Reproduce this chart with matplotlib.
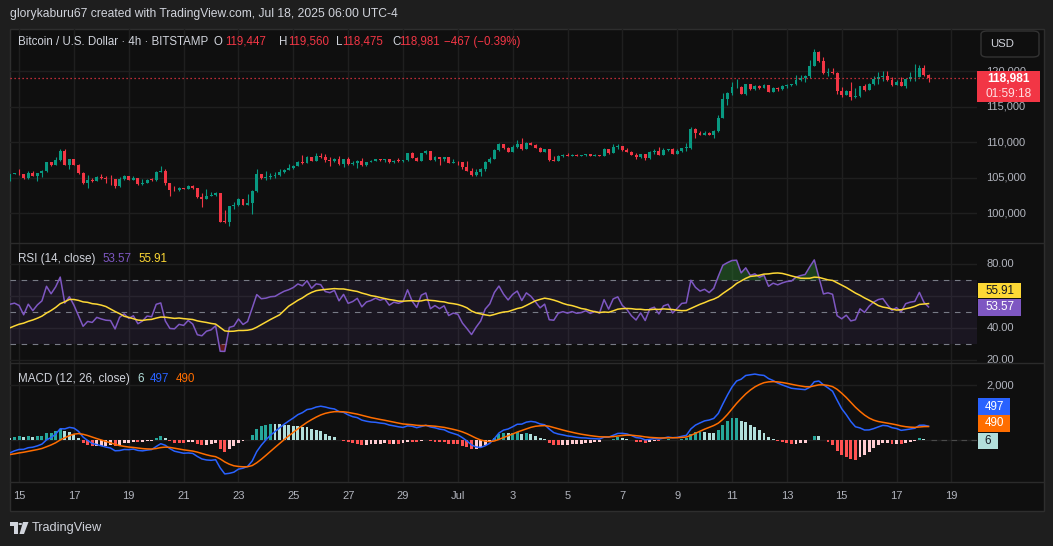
import numpy as np
import pandas as pd
import matplotlib
matplotlib.use("Agg")
import matplotlib.pyplot as plt
import matplotlib.transforms as mtransforms
from matplotlib.patches import Rectangle, FancyBboxPatch, Circle, Polygon

plt.rcParams['font.family'] = ['Liberation Sans', 'DejaVu Sans']

W, H = 1053, 546

# ---- BTCUSD 4h candles (Bitstamp), Jun 14 16:00 -> Jul 18 04:00
first_open = 104621
closes = [
    105526, 105600, 105478, 104954, 105621, 105240, 105621, 105906, 107192, 106763,
    107477, 108763, 106811, 107620, 106811, 105668, 104240, 104764, 104621, 105145,
    104954, 104812, 104780, 103812, 104859, 105192, 104716, 104954, 104098, 104336,
    104764, 104700, 105859, 106002, 104240, 103288, 103241, 103622, 103500, 103907,
    103526, 102241, 102098, 102432, 102527, 102812, 98814, 98780, 101051, 101194,
    102003, 101194, 101527, 103193, 105478, 104954, 105050, 105288, 105350, 105764,
    106144, 106382, 106716, 107287, 107144, 107953, 107382, 108048, 107990, 107480,
    107400, 107668, 106906, 107620, 106906, 107096, 107430, 106763, 107239, 107382,
    107620, 107477, 107600, 107192, 107430, 107360, 107477, 108477, 107810, 107382,
    108477, 108715, 107572, 107858, 107620, 107858, 107096, 107287, 107200, 106478,
    105954, 105335, 105811, 106240, 107192, 107668, 108905, 109762, 109143, 108667,
    109334, 109762, 109000, 109952, 109667, 109191, 108667, 109048, 107477, 107420,
    108096, 108239, 108100, 108239, 108096, 108150, 108286, 108096, 108240, 108120,
    109096, 108477, 109334, 109524, 108953, 108667, 108191, 107858, 108356, 107746,
    108638, 108779, 108262, 108920, 109061, 108403, 108779, 109201, 109249, 111877,
    111361, 111080, 111314, 111080, 111596, 113427, 116103, 116948, 117700, 117794,
    116807, 118169, 117512, 117887, 117606, 118028, 117089, 117653, 117512, 117840,
    118075, 118150, 118779, 119061, 119249, 120751, 122723, 121362, 119718, 119906,
    119760, 117136, 116667, 117136, 116291, 116432, 117840, 117371, 118216, 118826,
    119202, 119343, 118685, 118075, 118404, 117934, 118920, 119108, 119202, 120376,
    119447, 118981,
]
highs = [
    105600, 105700, 106192, 105550, 105906, 105906, 105680, 106144, 107250, 107250,
    107858, 109048, 109048, 107700, 107700, 106950, 105811, 105335, 104954, 105200,
    105573, 105288, 105335, 104860, 105097, 105335, 105250, 105192, 104954, 104859,
    104850, 104954, 105900, 106620, 106192, 104300, 103907, 103700, 103600, 103950,
    103950, 103622, 102908, 103431, 103050, 102955, 102908, 100480, 101100, 101670,
    102146, 102050, 102670, 103250, 106192, 105500, 105906, 105668, 105859, 106287,
    106200, 106906, 106800, 107350, 108191, 108000, 107950, 108429, 108429, 108334,
    107953, 107810, 108001, 107680, 107858, 107334, 107480, 107715, 107290, 107525,
    107680, 107650, 107640, 107650, 107572, 107715, 107520, 108520, 108572, 107860,
    108520, 108953, 108620, 108096, 107953, 107953, 107858, 107668, 107330, 107240,
    107334, 106382, 106192, 106382, 107334, 107906, 109048, 109905, 109810, 109286,
    109619, 110333, 110571, 110000, 110000, 109760, 109381, 109100, 109100, 108096,
    108150, 108334, 108477, 108382, 108334, 108191, 108382, 108334, 108382, 108240,
    109150, 109096, 109762, 109762, 109524, 109191, 108762, 108477, 108400, 108400,
    108700, 109061, 109342, 109155, 109100, 109201, 109061, 109250, 109906, 112159,
    111971, 111596, 111549, 111455, 111650, 113803, 116948, 117000, 118498, 118826,
    117850, 118220, 118216, 118075, 118075, 118216, 118100, 117700, 117700, 117981,
    118120, 118169, 119484, 119437, 119484, 121502, 123146, 122770, 121972, 120470,
    120423, 119906, 117794, 117277, 118498, 117606, 117900, 118169, 118310, 119296,
    119906, 120047, 120047, 119155, 118685, 119202, 119061, 119906, 121033, 120892,
    120892, 119560,
]
lows = [
    104550, 105480, 105335, 104900, 104900, 105200, 104621, 105097, 105850, 106700,
    106760, 107400, 106750, 106287, 106750, 105600, 104150, 103574, 104383, 104526,
    104812, 104240, 104050, 103574, 103780, 104764, 104650, 104700, 104050, 104050,
    104240, 104526, 104526, 105811, 104002, 102384, 103098, 103200, 103384, 103430,
    103480, 102200, 100908, 102051, 102432, 102384, 98750, 98700, 98242, 100575,
    101099, 101150, 101150, 99861, 102955, 104900, 104764, 104859, 104907, 105240,
    105621, 106097, 106192, 106668, 106954, 107096, 107330, 107330, 107715, 107239,
    106620, 107239, 106850, 106525, 106850, 106811, 106382, 106620, 106700, 107190,
    107330, 107334, 107239, 107150, 107150, 107239, 107239, 107430, 107760, 107330,
    107330, 108380, 107520, 107430, 106763, 107334, 107050, 107050, 106811, 106287,
    105900, 105290, 105290, 105240, 106000, 107100, 107620, 108700, 109100, 108620,
    108620, 109143, 108905, 109000, 109620, 109140, 108620, 108620, 107430, 107380,
    107380, 107950, 108050, 108050, 108050, 108050, 108096, 108050, 108050, 108000,
    108050, 108382, 108430, 109000, 108810, 108620, 108140, 107668, 107800, 107512,
    107700, 108403, 108200, 108200, 108779, 108350, 108350, 108685, 108779, 109107,
    110657, 111030, 111030, 111030, 110657, 111500, 113333, 115258, 116573, 117559,
    116750, 116667, 117324, 117277, 117512, 117606, 116995, 117089, 117136, 117277,
    117653, 117887, 118028, 118545, 118498, 119061, 120657, 121300, 119577, 119249,
    119577, 116807, 116291, 116620, 115868, 116197, 116291, 117136, 117324, 118075,
    118216, 118545, 118545, 117887, 117981, 117880, 117559, 118545, 118545, 119108,
    119300, 118475,
]

date_ticks = [2 + 12 * k for k in range(18)]
date_labels = ["15", "17", "19", "21", "23", "25", "27", "29", "Jul",
               "3", "5", "7", "9", "11", "13", "15", "17", "19"]
price_ticks = [100000, 105000, 110000, 115000, 120000]
rsi_ticks = [20, 40, 60, 80]
rsi_label_ticks = [20, 40, 80]
macd_ticks = [0, 2000]

# legend strings as shown on the chart
ohlc_labels = ["O", "H", "L", "C"]
ohlc_values = ["119,447", "119,560", "118,475", "118,981"]
change_text = "\u2212467 (\u22120.39%)"

# indicator state at the left edge of the chart
macd_seed = -545
rsi_seed_gain, rsi_seed_loss = 150, 180
rsi_ma_seed = 39

# ---- indicators
c = pd.Series(closes, dtype=float)
o = c.shift(1).fillna(first_open)
n = len(c)
x = np.arange(n)

d = c.diff().fillna(c[0] - first_open)
ag, al = rsi_seed_gain, rsi_seed_loss
rsi = []
for chg in d:
    ag = (ag * 13 + max(chg, 0)) / 14
    al = (al * 13 + max(-chg, 0)) / 14
    rsi.append(100 - 100 / (1 + ag / al))
rsi = pd.Series(rsi)
rsi_ma = pd.concat([pd.Series([rsi_ma_seed] * 13, dtype=float), rsi],
                   ignore_index=True).rolling(14).mean().iloc[13:].reset_index(drop=True)

slope = -macd_seed / 7.0
e12, e26, sig = first_open + 5.5 * slope, first_open + 12.5 * slope, float(macd_seed)
macd, signal = [], []
for px in c:
    e12 += 2 / 13 * (px - e12)
    e26 += 2 / 27 * (px - e26)
    m = e12 - e26
    sig += 0.2 * (m - sig)
    macd.append(m)
    signal.append(sig)
macd = np.array(macd)
signal = np.array(signal)
hist = macd - signal
prev = np.r_[hist[0], hist[:-1]]
hist_col = np.where(hist >= 0,
                    np.where(hist > prev, '#26a69a', '#b2dfdb'),
                    np.where(hist > prev, '#ffcdd2', '#ff5252'))

# ---- figure
BG = '#0f0f0f'
OUT = '#1e1e1e'
GRID = '#1f1f1f'
SEP = '#2b2b2b'
TXT = '#d1d4dc'
AX_TXT = '#b2b5be'
UP, DN = '#089981', '#f23645'

fig = plt.figure(figsize=(W / 100, H / 100), dpi=100, facecolor=OUT)


def fx(px):
    return px / W


def fy(py):
    return 1 - py / H


def ftext(px, py, s, **kw):
    kw.setdefault('va', 'center')
    return fig.text(fx(px), fy(py), s, **kw)


def frect(x0, y0, x1, y1, **kw):
    fig.add_artist(Rectangle((fx(x0), fy(y1)), fx(x1) - fx(x0), fy(y0) - fy(y1),
                             transform=fig.transFigure, **kw))


def fbox(x0, y0, x1, y1):
    return mtransforms.TransformedBbox(
        mtransforms.Bbox.from_extents(fx(x0), fy(y1), fx(x1), fy(y0)), fig.transFigure)


# chart frame
frect(10, 29, 1044, 511, facecolor=BG, edgecolor='#2e2e2e', linewidth=1, zorder=0)

X0, X1 = 10, 977
xstep, xorig = 4.57, 9.96
xlim = ((X0 - xorig) / xstep, (X1 - xorig) / xstep)


def pane(y0, y1, ylim):
    ax = fig.add_axes([fx(X0), fy(y1), fx(X1) - fx(X0), (y1 - y0) / H])
    ax.set_facecolor('none')
    ax.set_xlim(*xlim)
    ax.set_ylim(*ylim)
    ax.axis('off')
    sc = fig.add_axes([fx(X1), fy(y1), fx(1044) - fx(X1), (y1 - y0) / H])
    sc.set_ylim(*ylim)
    sc.axis('off')
    for t in date_ticks:
        ax.axvline(t, color=GRID, lw=1, zorder=0)
    return ax, sc


ax, sc = pane(29, 243, (95851, 125897))
ax_r, sc_r = pane(243, 363, (18.07, 93.4))
ax_m, sc_m = pane(363, 482, (-1527, 2800))

lab_tr = lambda s: mtransforms.blended_transform_factory(s.transAxes, s.transData)

# ---- price pane
badge_top, badge_bot = 71, 102
for p in price_ticks:
    ax.axhline(p, color=GRID, lw=1, zorder=0)
    t = sc.text(0.14, p, f"{p:,}", color=AX_TXT, fontsize=8, va='center',
                transform=lab_tr(sc))
    # the last-price badge sits on top of the axis labels
    if p > c.iloc[-1]:
        t.set_clip_box(fbox(977, 29, 1044, badge_top))
    else:
        t.set_clip_box(fbox(977, badge_bot, 1044, 243))

up = c.values >= o.values
col = np.where(up, UP, DN)
body_lo = np.minimum(o.values, c.values)
body_h = np.maximum(np.abs(c.values - o.values), 90)
ax.vlines(x, np.minimum(lows, body_lo), np.maximum(highs, body_lo + body_h),
          colors=col, lw=0.8, zorder=2)
ax.bar(x, body_h, bottom=body_lo, width=0.64, color=col, linewidth=0, zorder=3)
ax.axhline(c.iloc[-1], color=DN, lw=0.9, ls=(0, (1, 2.2)), zorder=4)

# ---- RSI pane
for v in rsi_ticks:
    ax_r.axhline(v, color=GRID, lw=1, zorder=0)
for v in rsi_label_ticks:
    sc_r.text(0.14, v, f"{v:.2f}", color=AX_TXT, fontsize=8, va='center',
              transform=lab_tr(sc_r), clip_on=True)
ax_r.axhspan(30, 70, color='#7e57c2', alpha=0.1, lw=0, zorder=1)
for v in (70, 50, 30):
    ax_r.axhline(v, color='#787b86', lw=0.8, ls=(0, (5, 5)), zorder=2)
ax_r.fill_between(x, rsi, 70, where=rsi > 70, interpolate=True,
                  color='#2e7d32', alpha=0.45, lw=0, zorder=2)
ax_r.fill_between(x, rsi, 30, where=rsi < 30, interpolate=True,
                  color='#c62828', alpha=0.45, lw=0, zorder=2)
ax_r.plot(x, rsi, color='#7e57c2', lw=1.1, zorder=3)
ax_r.plot(x, rsi_ma, color='#fdd835', lw=1.1, zorder=4)

# ---- MACD pane
for v in macd_ticks:
    ax_m.axhline(v, color=GRID, lw=1, zorder=0)
sc_m.text(0.14, 2000, "2,000", color=AX_TXT, fontsize=8, va='center',
          transform=lab_tr(sc_m), clip_on=True)
ax_m.plot([n - 0.5, xlim[1]], [0, 0], color='#4a4a4a', lw=0.8, ls=(0, (5, 4)), zorder=1)
ax_m.bar(x, hist, width=0.64, color=hist_col, linewidth=0, zorder=2)
ax_m.plot(x, macd, color='#2962ff', lw=1.1, zorder=3)
ax_m.plot(x, signal, color='#ff6d00', lw=1.1, zorder=4)

# date labels
dtr = mtransforms.blended_transform_factory(ax_m.transData, fig.transFigure)
for t, s in zip(date_ticks, date_labels):
    ax_m.text(t, fy(496), s, color=AX_TXT, fontsize=8, ha='center', va='center',
              transform=dtr, clip_on=False)

# pane separators
for yy in (243, 363, 482):
    fig.add_artist(plt.Line2D([fx(10), fx(1044)], [fy(yy), fy(yy)],
                              transform=fig.transFigure, color=SEP, lw=1))

# ---- header / legends
ftext(10, 14, "glorykaburu67 created with TradingView.com, Jul 18, 2025 06:00 UTC-4",
      color=TXT, fontsize=8.7)
ftext(18, 42, "Bitcoin / U.S. Dollar \u00b7 4h \u00b7 BITSTAMP", color=TXT, fontsize=8.3)
for lx, vx, lab, val in zip((213.6, 278.6, 335.7, 392), (225.5, 288, 342, 399),
                            ohlc_labels, ohlc_values):
    ftext(lx, 42, lab, color=TXT, fontsize=8.3)
    ftext(vx, 42, val, color=DN, fontsize=8.3)
ftext(444, 42, change_text, color=DN, fontsize=8.3)

ftext(18, 259, "RSI (14, close)", color=TXT, fontsize=8.4)
ftext(102, 259, f"{53.57:.2f}", color='#7e57c2', fontsize=8.4)
ftext(138, 259, f"{55.91:.2f}", color='#fdd835', fontsize=8.4)

ftext(18, 379, "MACD (12, 26, close)", color=TXT, fontsize=8.4)
ftext(137, 379, "6", color='#b2dfdb', fontsize=8.4)
ftext(150, 379, "497", color='#2962ff', fontsize=8.4)
ftext(176, 379, "490", color='#ff6d00', fontsize=8.4)

# ---- right-side badges
fig.add_artist(FancyBboxPatch((fx(981), fy(57)), fx(1039) - fx(981), fy(31) - fy(57),
                              boxstyle="round,pad=0,rounding_size=0.006",
                              transform=fig.transFigure, facecolor=BG,
                              edgecolor='#333333', lw=1))
ftext(990, 44, "USD", color=TXT, fontsize=8.2)

frect(977, badge_top, 1040, badge_bot, facecolor=DN, lw=0, zorder=5)
ftext(1008.5, 79, "118,981", color='white', fontsize=8.6, ha='center',
      weight='bold', zorder=6)
ftext(1008.5, 93.5, "01:59:18", color='#ffe0e3', fontsize=8.6, ha='center', zorder=6)

frect(978, 282.5, 1021, 298, facecolor='#fdd835', lw=0, zorder=5)
ftext(999.5, 290.5, "55.91", color='#131722', fontsize=8.4, ha='center', zorder=6)
frect(978, 299, 1021, 316, facecolor='#7e57c2', lw=0, zorder=5)
ftext(999.5, 307.5, "53.57", color='white', fontsize=8.4, ha='center', zorder=6)

frect(978, 398, 1010, 414.5, facecolor='#2962ff', lw=0, zorder=5)
ftext(994, 406.5, "497", color='white', fontsize=8.4, ha='center', zorder=6)
frect(978, 414.5, 1010, 431.5, facecolor='#ff6d00', lw=0, zorder=5)
ftext(994, 423, "490", color='white', fontsize=8.4, ha='center', zorder=6)
frect(978, 432.5, 998, 448.5, facecolor='#b2dfdb', lw=0, zorder=5)
ftext(988, 440.5, "6", color='#131722', fontsize=8.4, ha='center', zorder=6)

# ---- TradingView logo at the bottom
frect(10, 522, 17.5, 525.5, facecolor=TXT, lw=0)
frect(13.8, 522, 17.5, 534, facecolor=TXT, lw=0)
fig.add_artist(Circle((fx(20.3), fy(524)), 1.9 / W, transform=fig.transFigure,
                      facecolor=TXT, lw=0))
fig.add_artist(Polygon([(fx(23), fy(522)), (fx(28.5), fy(522)), (fx(24), fy(534)),
                        (fx(19.5), fy(534))], closed=True, transform=fig.transFigure,
                       facecolor=TXT, lw=0))
ftext(32, 528.5, "TradingView", color=TXT, fontsize=9.2)

fig.savefig("out.png", dpi=100, facecolor=OUT)
